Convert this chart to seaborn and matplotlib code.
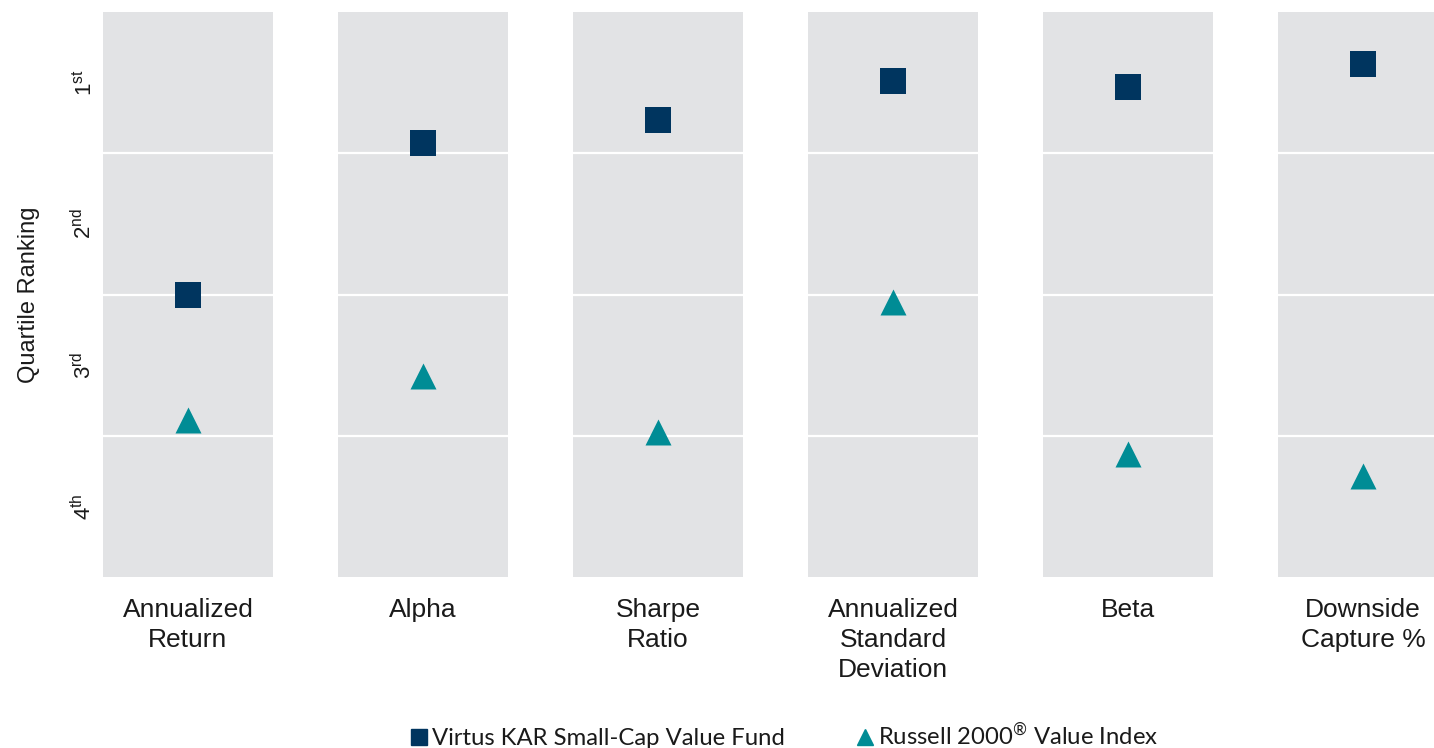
import matplotlib

matplotlib.use("Agg")
import matplotlib.pyplot as plt
from matplotlib.lines import Line2D
import seaborn as sns

# percentile rank within category (0 = best, 100 = worst)
categories = [
    "Annualized\nReturn",
    "Alpha",
    "Sharpe\nRatio",
    "Annualized\nStandard\nDeviation",
    "Beta",
    "Downside\nCapture %",
]
fund_pct = [50.1, 23.2, 19.1, 12.2, 13.3, 9.2]
index_pct = [72.2, 64.4, 74.3, 51.3, 78.2, 82.1]
quartile_labels = ["1$^{\\mathregular{st}}$", "2$^{\\mathregular{nd}}$",
                   "3$^{\\mathregular{rd}}$", "4$^{\\mathregular{th}}$"]
series_names = ["Virtus KAR Small-Cap Value Fund",
                "Russell 2000$^{\\mathregular{\u00ae}}$ Value Index"]

NAVY = "#00355F"
TEAL = "#008C95"
PANEL = "#E2E3E5"

sns.set_theme(style="white")
plt.rcParams["font.family"] = ["Liberation Sans", "DejaVu Sans"]

W, H = 1434, 748
fig = plt.figure(figsize=(W / 100, H / 100), dpi=100)

for i, cat in enumerate(categories):
    left = 103 + 235 * i
    ax = fig.add_axes([left / W, 1 - 577 / H, 170 / W, 565 / H])
    ax.set_facecolor(PANEL)
    for y in (25, 50, 75):
        ax.axhline(y, color="white", linewidth=1.6, zorder=1)
    sns.scatterplot(x=[0], y=[fund_pct[i]], marker="s", s=375, color=NAVY,
                    linewidth=0, ax=ax, zorder=3)
    sns.scatterplot(x=[0], y=[index_pct[i]], marker="^", s=350, color=TEAL,
                    linewidth=0, ax=ax, zorder=3)
    ax.set_xlim(-1, 1)
    ax.set_ylim(100, 0)
    sns.despine(ax=ax, left=True, bottom=True)
    ax.set_xticks([0])
    ax.set_xticklabels([cat], fontsize=19, linespacing=1.32, color="#1a1a1a")
    ax.tick_params(axis="x", length=0, pad=15)
    ax.set_xlabel("")
    if i == 0:
        ax.set_yticks([12.5, 37.5, 62.5, 87.5])
        ax.set_yticklabels(quartile_labels, rotation=90, va="center",
                           fontsize=16, color="#1a1a1a")
        ax.tick_params(axis="y", length=0, pad=5)
        ax.set_ylabel("Quartile Ranking", fontsize=17, color="#1a1a1a", labelpad=22)
    else:
        ax.set_yticks([])
        ax.set_ylabel("")

handles = [
    Line2D([], [], marker="s", linestyle="none", color=NAVY, markersize=12),
    Line2D([], [], marker="^", linestyle="none", color=TEAL, markersize=12),
]
fig.legend(handles, series_names, loc="lower center", ncol=2,
           bbox_to_anchor=(785 / W, -0.03), frameon=False,
           prop={"family": "Lato", "size": 17.2}, handlelength=0.7,
           handletextpad=0.2, columnspacing=3.0, labelcolor="#1a1a1a")

fig.savefig("out.png", dpi=100)
